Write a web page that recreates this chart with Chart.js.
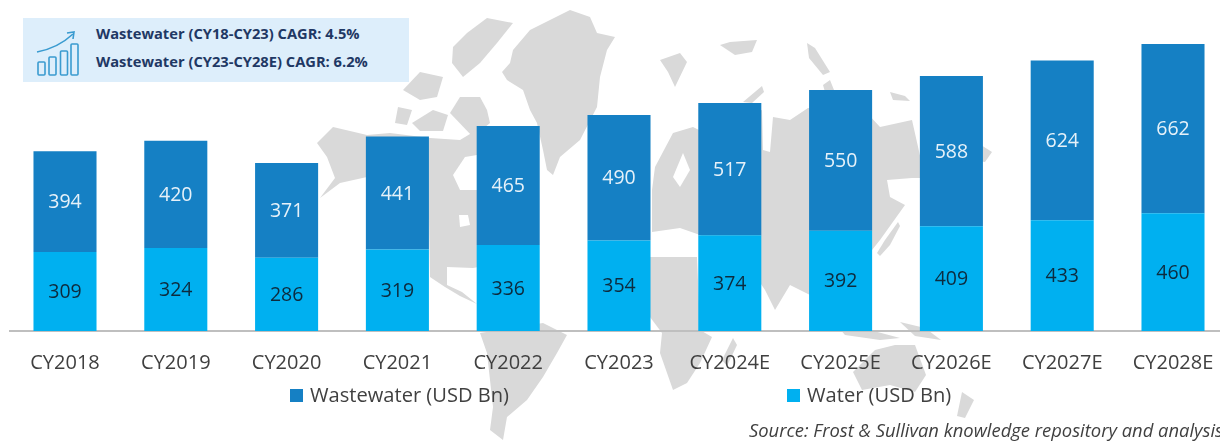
<!DOCTYPE html>
<html lang="en">

<head>
    <meta charset="UTF-8" />
    <script src="https://cdn.jsdelivr.net/npm/chart.js"></script>
    <title>Wastewater and water market</title>
    <style>
        html, body { margin: 0; padding: 0; background: #fff; width: 1220px; height: 443px; overflow: hidden; }
        body { position: relative; font-family: "Open Sans", sans-serif; }
        #map { position: absolute; left: 0; top: 0; }
        #map polygon { fill: #d9d9d9; }
        #map polygon.sea { fill: #fff; }
        #BarChart { position: absolute; left: 0; top: 0; }
        .cagrBox { position: absolute; left: 23px; top: 18px; width: 386px; height: 64px; background: #ddeefb; }
        .cagrBox span { position: absolute; left: 73px; font-size: 14.7px; font-weight: 700; color: #1f3864; white-space: nowrap; line-height: 18px; }
        .cagrBox svg { position: absolute; left: 13px; top: 6px; }
        .legendItem { position: absolute; top: 383px; font-size: 20.1px; line-height: 24px; color: #404040; white-space: nowrap; }
        .legendItem i { display: inline-block; width: 13px; height: 13px; margin-right: 7px; }
        .source { position: absolute; left: 749px; top: 419px; font-size: 18.4px; line-height: 22px; font-style: italic; color: #404040; white-space: nowrap; }
    </style>
</head>

<body>
    <svg id="map" width="1220" height="443">
        <polygon points="570,10 530,30 513,50 510,63 502,72 507,80 523,90 530,110 537,123 543,150 547,170 553,175 560,157 580,140 597,107 600,77 607,50 615,37 597,33 590,17" />
        <polygon points="513,23 487,18 467,33 453,47 452,63 463,77 480,63 497,43" />
        <polygon points="487,110 480,97 460,97 450,113 473,137 490,123" />
        <polygon points="420,72 403,90 420,100 437,97 443,77" />
        <polygon points="398,107 395,123 407,125 412,110" />
        <polygon points="433,110 412,123 420,131 443,131 448,115" />
        <polygon points="317,143 333,127 367,135 390,133 430,138 460,140 480,128 500,150 535,200 520,240 490,265 473,268 447,267 447,285 462,292 477,304 460,296 445,287 430,277 429,220 367,177 340,183 320,198 335,178 327,157" />
        <polygon class="sea" points="453,175 465,157 477,155 477,190 460,190" />
        <polygon class="sea" points="459,215 468,215 470,225 460,227" />
        <polygon points="480,333 543,323 567,335 557,353 543,377 527,400 507,417 503,440 490,430 493,407 487,353" />
        <polygon points="655,167 673,133 693,127 699,130 762,110 763,150 770,152 773,117 790,120 808,108 867,113 880,127 912,120 925,178 912,178 887,180 890,197 905,205 880,240 872,250 860,285 810,295 790,285 775,310 765,290 745,260 700,235 680,228 652,232 652,190" />
        <polygon class="sea" points="683,153 673,177 680,187 690,170" />
        <polygon points="640,257 697,257 700,330 712,337 700,363 687,383 673,390 660,353 662,333 650,317" />
        <polygon points="733,338 737,345 727,366 722,360" />
        <polygon points="660,60 680,53 687,62 675,87 668,72" />
        <polygon points="720,45 730,42 757,40 752,52 735,55" />
        <polygon points="807,43 815,48 830,72 823,75 809,58" />
        <polygon points="823,85 830,80 834,90 825,92" />
        <polygon points="890,92 905,96 910,101 893,100" />
        <polygon points="743,102 762,86 764,92 752,103" />
        <polygon points="970,138 992,152 985,162 972,160" />
        <polygon points="877,253 885,240 898,222 900,226 890,245 880,256" />
        <polygon points="834,322 870,330 900,338 880,340 845,335" />
        <polygon points="900,322 925,328 941,340 915,336" />
        <polygon points="853,372 875,350 895,345 915,345 926,375 915,392 890,385 862,390" />
        <polygon points="962,392 974,400 965,418 957,416" />
    </svg>

    <canvas id="BarChart" width="1240" height="443"></canvas>

    <div class="cagrBox">
        <svg width="50" height="56">
            <g fill="none" stroke="#3a9bd0" stroke-width="1.6">
                <rect x="2" y="38" width="7" height="13" rx="1" />
                <rect x="13" y="33" width="7" height="18" rx="1" />
                <rect x="24.5" y="27" width="7" height="24" rx="1" />
                <rect x="35" y="20" width="7" height="31" rx="1" />
                <path d="M1 28 Q22 24 37 10" />
                <path d="M31 9 L38 8 L37 15" />
            </g>
        </svg>
        <span id="cagr1" style="top:6px"></span>
        <span id="cagr2" style="top:34px"></span>
    </div>

    <div class="legendItem" id="legendWaste" style="left:290px"></div>
    <div class="legendItem" id="legendWater" style="left:787px"></div>
    <div class="source">Source: Frost &amp; Sullivan knowledge repository and analysis</div>
</body>

</html>

<script>
    const categories = ['CY2018', 'CY2019', 'CY2020', 'CY2021', 'CY2022', 'CY2023', 'CY2024E', 'CY2025E', 'CY2026E', 'CY2027E', 'CY2028E'];
    const waterValues = [309, 324, 286, 319, 336, 354, 374, 392, 409, 433, 460];
    const wastewaterValues = [394, 420, 371, 441, 465, 490, 517, 550, 588, 624, 662];
    const waterName = 'Water (USD Bn)';
    const wastewaterName = 'Wastewater (USD Bn)';
    const cagrLines = ['Wastewater (CY18-CY23) CAGR: 4.5%', 'Wastewater (CY23-CY28E) CAGR: 6.2%'];

    const colorWater = '#00b0f0';
    const colorWastewater = '#1580c4';

    document.getElementById('cagr1').textContent = cagrLines[0];
    document.getElementById('cagr2').textContent = cagrLines[1];
    document.getElementById('legendWaste').innerHTML = '<i style="background:' + colorWastewater + '"></i>' + wastewaterName;
    document.getElementById('legendWater').innerHTML = '<i style="background:' + colorWater + '"></i>' + waterName;

    // numbers in the middle of each bar segment
    const barLabels = {
        id: 'barLabels',
        afterDatasetsDraw(chart) {
            const c = chart.ctx;
            c.save();
            c.font = '19.5px "Open Sans"';
            c.textAlign = 'center';
            c.textBaseline = 'middle';
            chart.data.datasets.forEach((ds, i) => {
                c.fillStyle = ds.labelColor;
                chart.getDatasetMeta(i).data.forEach((bar, j) => {
                    c.fillText(ds.data[j], bar.x, (bar.y + bar.base) / 2 + 1);
                });
            });
            c.restore();
        }
    };

    const ctx = document.getElementById('BarChart').getContext('2d');

    const CHART1 = new Chart(ctx, {
        type: 'bar',
        data: {
            labels: categories,
            datasets: [{
                label: waterName,
                data: waterValues,
                backgroundColor: colorWater,
                labelColor: '#0d2b3e'
            }, {
                label: wastewaterName,
                data: wastewaterValues,
                backgroundColor: colorWastewater,
                labelColor: '#e6f1f9'
            }]
        },
        options: {
            responsive: false,
            animation: false,
            layout: { padding: { left: 9.6, right: 11.6, top: 24, bottom: 0 } },
            datasets: { bar: { categoryPercentage: 1, barPercentage: 0.569 } },
            scales: {
                y: {
                    display: false,
                    stacked: true,
                    min: 0,
                    max: 1200
                },
                x: {
                    stacked: true,
                    grid: { display: false, drawTicks: false },
                    border: { color: '#bfbfbf', width: 2 },
                    ticks: {
                        color: '#404040',
                        padding: 20,
                        maxRotation: 0,
                        autoSkip: false,
                        font: { family: 'Open Sans', size: 20 }
                    },
                    afterFit(scale) { scale.height = 112; }
                }
            },
            plugins: {
                legend: { display: false },
                tooltip: { enabled: false }
            }
        },
        plugins: [barLabels]
    });
</script>
